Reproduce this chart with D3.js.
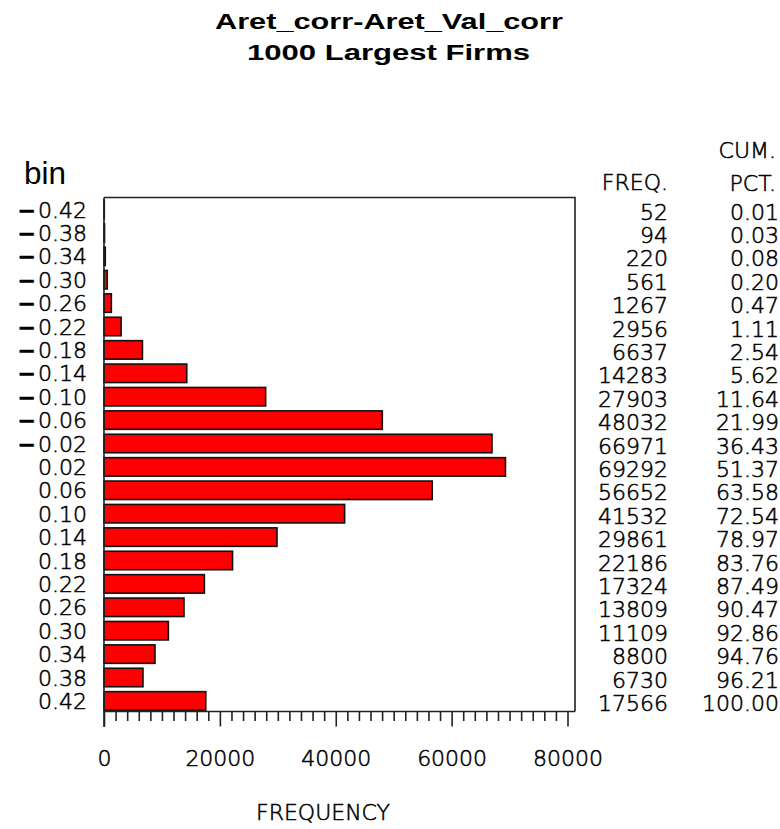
<!DOCTYPE html>
<html>
<head>
<meta charset="utf-8">
<script src="https://cdn.jsdelivr.net/npm/d3@7"></script>
<style>
  html, body { margin: 0; padding: 0; background: #ffffff; }
  svg { display: block; }
  .sas { font-family: "DejaVu Sans", sans-serif; font-weight: 200; fill: #000; stroke: #000; stroke-width: 0.55px; }
</style>
</head>
<body>
<svg id="chart" width="780" height="829"></svg>
<script>
const titleLines = ["Aret_corr-Aret_Val_corr", "1000 Largest Firms"];
const bins = ["-0.42","-0.38","-0.34","-0.30","-0.26","-0.22","-0.18","-0.14","-0.10","-0.06","-0.02",
              "0.02","0.06","0.10","0.14","0.18","0.22","0.26","0.30","0.34","0.38","0.42"];
const freq = [52,94,220,561,1267,2956,6637,14283,27903,48032,66971,
              69292,56652,41532,29861,22186,17324,13809,11109,8800,6730,17566];
const cumPct = ["0.01","0.03","0.08","0.20","0.47","1.11","2.54","5.62","11.64","21.99","36.43",
                "51.37","63.58","72.54","78.97","83.76","87.49","90.47","92.86","94.76","96.21","100.00"];
const xTicks = [0, 20000, 40000, 60000, 80000];
const xMinorStep = 2000;

const svg = d3.select("#chart");

// layout
const frame = {left: 104, right: 575, top: 197.5, bottom: 711.5};
const x = d3.scaleLinear().domain([0, 80000]).range([104, 567.5]);
const y = d3.scaleBand().domain(bins).range([197.8, 712.6]).paddingInner(0.21).paddingOuter(0.105);

// title
svg.append("text").attr("x", 215).attr("y", 29)
  .attr("textLength", 348).attr("lengthAdjust", "spacingAndGlyphs")
  .style("font-family", "'Liberation Sans', Arial, sans-serif").style("font-weight", "bold").style("font-size", "22px")
  .text(titleLines[0]);
svg.append("text").attr("x", 247).attr("y", 59.5)
  .attr("textLength", 283).attr("lengthAdjust", "spacingAndGlyphs")
  .style("font-family", "'Liberation Sans', Arial, sans-serif").style("font-weight", "bold").style("font-size", "22px")
  .text(titleLines[1]);

// "bin" label
svg.append("text").attr("x", 24).attr("y", 184)
  .attr("textLength", 42).attr("lengthAdjust", "spacingAndGlyphs")
  .style("font-family", "'Liberation Sans', Arial, sans-serif").style("font-size", "31px")
  .text("bin");

// bars
svg.append("g").selectAll("rect").data(bins).join("rect")
  .attr("x", x(0))
  .attr("y", d => y(d))
  .attr("width", (d, i) => x(freq[i]) - x(0))
  .attr("height", y.bandwidth())
  .attr("fill", "#ff0000")
  .attr("stroke", "#111")
  .attr("stroke-width", 1.6);

// frame
const fr = svg.append("g").attr("fill", "none").attr("stroke", "#222").attr("stroke-width", 1.6);
fr.append("path").attr("d", `M${frame.left},${frame.top}H${frame.right}V${frame.bottom}`);
fr.append("path").attr("d", `M${frame.left},727V${frame.top}`);

// bottom axis: minor ticks
const minorVals = d3.range(0, 80000 + 1, xMinorStep).filter(v => !xTicks.includes(v));
const minorAxis = d3.axisBottom(x).tickValues(minorVals).tickSize(9.5).tickFormat("");
const gMin = svg.append("g").attr("transform", `translate(0,${frame.bottom})`).call(minorAxis);
gMin.select(".domain").remove();
gMin.selectAll("line").attr("stroke", "#222").attr("stroke-width", 1.6);

const majorAxis = d3.axisBottom(x).tickValues(xTicks).tickSize(15).tickFormat(d3.format("d"));
const gMaj = svg.append("g").attr("transform", `translate(0,${frame.bottom})`).call(majorAxis);
gMaj.select(".domain").attr("d", `M${frame.left},0H${frame.right}`).attr("stroke", "#222").attr("stroke-width", 1.6);
gMaj.selectAll("line").attr("stroke", "#222").attr("stroke-width", 1.6);
gMaj.attr("font-family", null).attr("font-size", null).attr("fill", null);
gMaj.selectAll("text")
  .attr("y", 766 - frame.bottom).attr("dy", 0)
  .attr("class", "sas")
  .attr("fill", null)
  .style("font-size", "22px");

// x axis label
svg.append("text").attr("class", "sas").attr("x", 323).attr("y", 820)
  .attr("text-anchor", "middle").style("font-size", "22px").text("FREQUENCY");

// left bin labels
const lab = svg.append("g").selectAll("text").data(bins).join("text")
  .attr("class", "sas")
  .attr("x", 87)
  .attr("y", d => y(d) + y.bandwidth() / 2 + 8)
  .attr("text-anchor", "end")
  .style("font-size", "22px");
lab.each(function(d) {
  const t = d3.select(this);
  if (d.startsWith("-")) {
    t.append("tspan").style("font-weight", "bold").text("\u2212");
    t.append("tspan").attr("dx", 2).text(d.slice(1));
  } else {
    t.text(d);
  }
});

// right columns
svg.append("text").attr("class", "sas").attr("x", 668).attr("y", 190)
  .attr("text-anchor", "end").style("font-size", "22px").text("FREQ.");
svg.append("text").attr("class", "sas").attr("x", 776).attr("y", 158)
  .attr("text-anchor", "end").style("font-size", "22px").text("CUM.");
svg.append("text").attr("class", "sas").attr("x", 776).attr("y", 191)
  .attr("text-anchor", "end").style("font-size", "22px").text("PCT.");

svg.append("g").selectAll("text").data(freq).join("text")
  .attr("class", "sas")
  .attr("x", 668)
  .attr("y", (d, i) => y(bins[i]) + y.bandwidth() / 2 + 10)
  .attr("text-anchor", "end")
  .style("font-size", "22px")
  .text(d => d);

svg.append("g").selectAll("text").data(cumPct).join("text")
  .attr("class", "sas")
  .attr("x", 779)
  .attr("y", (d, i) => y(bins[i]) + y.bandwidth() / 2 + 10)
  .attr("text-anchor", "end")
  .style("font-size", "22px")
  .text(d => d);
</script>
</body>
</html>
